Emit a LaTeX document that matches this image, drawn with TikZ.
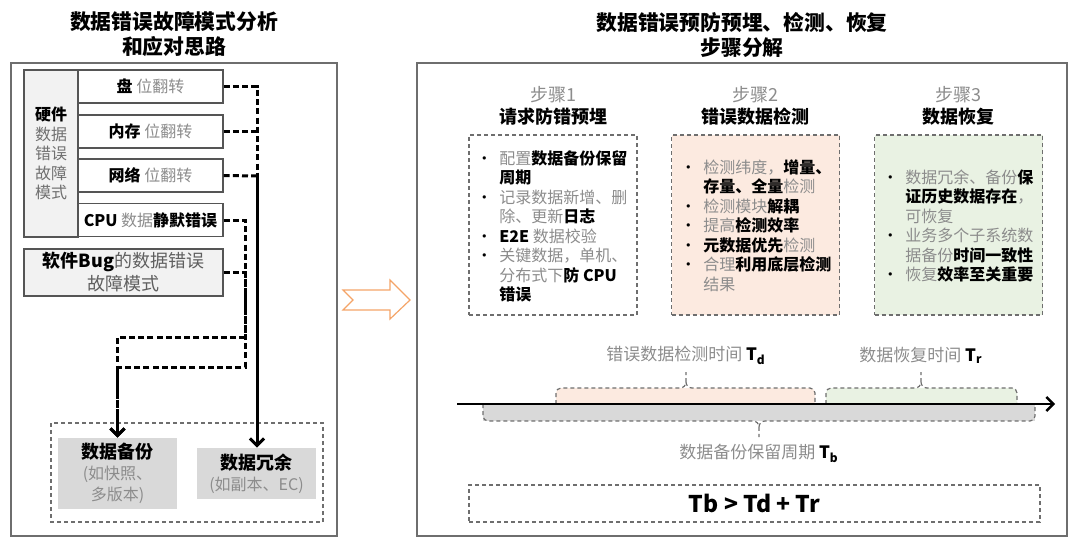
\documentclass[tikz,border=0pt]{standalone}
\usepackage{fontspec}
\setmainfont{Noto Sans CJK SC}[BoldFont={Noto Sans CJK SC Black}]
\usetikzlibrary{arrows.meta, positioning, calc}
\definecolor{txtgray}{HTML}{8C8C8C}
\definecolor{bugtext}{HTML}{5F5F5F}
\definecolor{panelline}{HTML}{6E6E6E}
\definecolor{cellline}{HTML}{555555}
\definecolor{cellfill}{HTML}{F2F2F2}
\definecolor{slab}{HTML}{D9D9D9}
\definecolor{detectfill}{HTML}{FCEAE0}
\definecolor{recoverfill}{HTML}{E9F2E3}
\definecolor{flowarrow}{HTML}{F4A468}
\newcommand\kw[1]{{\bfseries\color{black}#1}}
\newcommand\bul{\makebox[11.5pt][l]{\color{black}•}}
\newcommand\ind{\hspace*{11.5pt}}

\begin{document}
\begin{tikzpicture}[x=0.5pt, y=-0.5pt,
  panel/.style={draw=panelline, line width=0.9pt},
  title/.style={font=\fontsize{10.4}{12.5}\selectfont\bfseries, align=center},
  hwrow/.style={draw=cellline, fill=white, line width=0.6pt, minimum width=72.5pt,
    minimum height=16.5pt, inner sep=0pt, text=txtgray, font=\fontsize{8}{9.75}\selectfont},
  grpbox/.style={draw=panelline, line width=0.6pt, dash pattern=on 2pt off 1.5pt},
  resbox/.style={fill=slab, inner sep=0pt, align=center, text=txtgray, font=\fontsize{8}{10.5}\selectfont},
  dconn/.style={line width=1.5pt, dash pattern=on 3pt off 1.6pt, -{Straight Barb[length=3.5pt, width=7pt]}},
  sconn/.style={line width=1.5pt, -{Straight Barb[length=3.5pt, width=7pt]}},
  stepno/.style={text=txtgray, font=\fontsize{9}{11}\selectfont},
  stephd/.style={font=\fontsize{9}{11}\selectfont\bfseries},
  stepbox/.style={grpbox, minimum width=84pt, minimum height=90pt, inner sep=0pt},
  steptxt/.style={anchor=west, inner sep=0pt, align=left, text=txtgray, font=\fontsize{8}{9.75}\selectfont},
  tlabel/.style={text=txtgray, inner sep=1pt, font=\fontsize{8.5}{10}\selectfont},
  brace/.style={draw=panelline, line width=0.6pt, dash pattern=on 2pt off 1.5pt}]
\useasboundingbox (0,0) rectangle (1080,548);

% titles
\node[title] (ltitle) at (174,34.5) {数据错误故障模式分析\\和应对思路};
\node[title] (rtitle) at (742,34.5) {数据错误预防预埋、检测、恢复\\步骤分解};

% left panel
\draw[panel] (11,63) rectangle (337,536);
\node[draw=cellline, fill=cellfill, line width=0.6pt, minimum width=27pt, minimum height=83.5pt,
  inner sep=0pt, align=center, text=txtgray!80!black, font=\fontsize{8}{9.75}\selectfont]
  (hwcol) at (51,153.5) {\kw{硬件}\\数据\\错误\\故障\\模式};
\node[hwrow] (disk) at (150.5,86.5) {\kw{盘} 位翻转};
\node[hwrow] (mem) at (150.5,131.5) {\kw{内存} 位翻转};
\node[hwrow] (net) at (150.5,175.5) {\kw{网络} 位翻转};
\node[hwrow] (cpu) at (150.5,220) {\kw{CPU} 数据\kw{静默错误}};
\node[draw=cellline, fill=cellfill, line width=0.6pt, minimum width=99.5pt, minimum height=23.5pt,
  inner sep=0pt, align=center, text=bugtext, font=\fontsize{9}{11.5}\selectfont]
  (bug) at (123.5,272.5) {\kw{软件Bug}的数据错误\\故障模式};

\draw[grpbox] (51,423) rectangle (323,522);
\node[resbox, minimum width=59.5pt, minimum height=35.5pt] (backup) at (117.5,473.5)
  {\kw{\fontsize{9}{10.5}\selectfont 数据备份}\\(如快照、\\多版本)};
\node[resbox, minimum width=59.5pt, minimum height=25.5pt] (redund) at (256.5,473.5)
  {\kw{\fontsize{9}{10.5}\selectfont 数据冗余}\\(如副本、EC)};

% connectors
\coordinate (hwjoin) at (257,176);
\coordinate (cpujoin) at (245,337);
\coordinate (bugjoin) at (245,367);
\draw[dconn, -] (disk.east) -| (hwjoin);
\draw[dconn, -] (mem.east) -- (mem.east -| hwjoin);
\draw[dconn, -] (net.east) -- (hwjoin);
\draw[sconn] (hwjoin) -- (hwjoin |- redund.north);
\draw[dconn] (cpu.east) -| (cpujoin) -| (backup.north);
\draw[dconn] (bug.east) -| (bugjoin) -| (backup.north);

% flow arrow
\draw[flowarrow, line width=0.6pt, line join=miter] (343,290) -- (390,290) -- (390,280) -- (410,300)
  -- (390,319) -- (390,310) -- (343,310) -- (353,300) -- cycle;

% right panel
\draw[panel] (417,63) rectangle (1067,536);

\node[stepno] (s1no) at (553,95) {步骤1};
\node[stephd] (s1hd) at (553,117) {请求防错预埋};
\node[stepno] (s2no) at (755.5,95) {步骤2};
\node[stephd] (s2hd) at (755.5,117) {错误数据检测};
\node[stepno] (s3no) at (958.5,95) {步骤3};
\node[stephd] (s3hd) at (958.5,117) {数据恢复};

\node[stepbox] (s1box) at (553,225) {};
\node[stepbox, fill=detectfill] (s2box) at (755.5,225) {};
\node[stepbox, fill=recoverfill] (s3box) at (958.5,225) {};

\node[steptxt] (s1txt) at (476,226.5) {\bul 配置\kw{数据备份保留}\\\ind\kw{周期}\\
  \bul 记录数据新增、删\\\ind 除、更新\kw{日志}\\\bul\kw{E2E} 数据校验\\
  \bul 关键数据，单机、\\\ind 分布式下\kw{防 CPU}\\\ind\kw{错误}};
\node[steptxt] (s2txt) at (680,225.5) {\bul 检测纬度，\kw{增量、}\\\ind\kw{存量、全量}检测\\
  \bul 检测模块\kw{解耦}\\\bul 提高\kw{检测效率}\\\bul\kw{元数据优先}检测\\
  \bul 合理\kw{利用底层检测}\\\ind 结果};
\node[steptxt] (s3txt) at (882,226) {\bul 数据冗余、备份\kw{保}\\\ind\kw{证历史数据存在}，\\
  \ind 可恢复\\\bul 业务多个子系统数\\\ind 据备份\kw{时间一致性}\\\bul 恢复\kw{效率至关重要}};

% timeline
\fill[detectfill] (556,404) -- (556,393) to[out=90,in=180] (561,388) -- (810,388)
  to[out=0,in=90] (815,393) -- (815,404) -- cycle;
\fill[recoverfill] (826,404) -- (826,393) to[out=90,in=180] (831,388) -- (1012,388)
  to[out=0,in=90] (1017,393) -- (1017,404) -- cycle;
\fill[slab] (483,404) rectangle (1035,421);
\draw[brace] (556,404) -- (556,393) to[out=90,in=180] (561,388) -- (680,388)
  to[out=0,in=-90] (686,382) -- (686,372) (686,382) to[out=-90,in=180] (692,388)
  -- (810,388) to[out=0,in=90] (815,393) -- (815,404);
\draw[brace] (826,404) -- (826,393) to[out=90,in=180] (831,388) -- (915,388)
  to[out=0,in=-90] (921,382) -- (921,372) (921,382) to[out=-90,in=180] (927,388)
  -- (1012,388) to[out=0,in=90] (1017,393) -- (1017,404);
\draw[brace] (483,404) -- (483,416) to[out=-90,in=180] (488,421) -- (753,421)
  to[out=0,in=90] (759,427) -- (759,437) (759,427) to[out=90,in=180] (765,421)
  -- (1030,421) to[out=0,in=-90] (1035,416) -- (1035,404);
\coordinate (t0) at (457,404);
\coordinate (tend) at (1055,404);
\draw[line width=1.2pt, -{Straight Barb[length=3.5pt, width=7pt]}] (t0) -- (tend);

\node[tlabel] (tdlabel) at (686,355) {错误数据检测时间 \kw{T\textsubscript{d}}};
\node[tlabel] (trlabel) at (921,355) {数据恢复时间 \kw{T\textsubscript{r}}};
\node[tlabel] (tblabel) at (759,453) {数据备份保留周期 \kw{T\textsubscript{b}}};

\node[grpbox, minimum width=285.5pt, minimum height=18.5pt, inner sep=0pt,
  font=\fontsize{11.5}{13}\selectfont\bfseries] (rule) at (754.5,503.5) {Tb > Td + Tr};
\end{tikzpicture}
\end{document}
